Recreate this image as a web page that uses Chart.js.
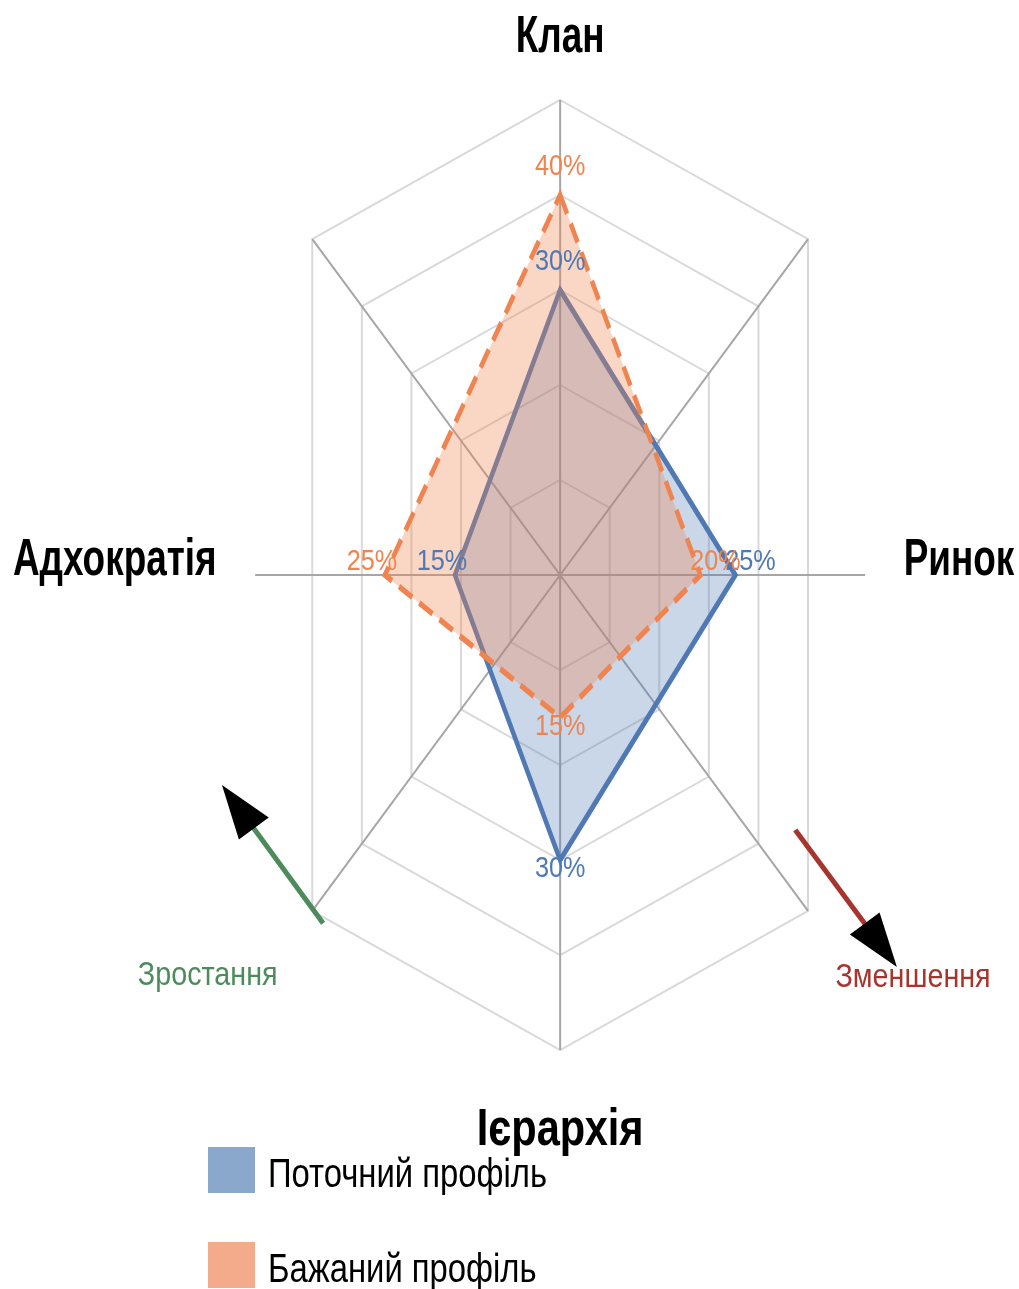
<!DOCTYPE html>
<html lang="uk">
<head>
<meta charset="utf-8">
<title>Профіль організаційної культури</title>
<script src="https://cdn.jsdelivr.net/npm/chart.js@4/dist/chart.umd.min.js"></script>
<style>
  html, body { margin: 0; padding: 0; background: #ffffff; overflow: hidden; }
  #wrap { position: relative; width: 1019px; height: 1289px; overflow: hidden; }
  canvas { display: block; }
</style>
</head>
<body>
<div id="wrap"><canvas id="chart" width="1383" height="1289"></canvas></div>
<script>
// ---- data ----
const categories     = ['Клан', '', 'Ринок', '', 'Ієрархія', '', 'Адхократія', ''];
const currentProfile = [30, null, 25, null, 30, null, 15, null];
const desiredProfile = [40, null, 20, null, 15, null, 25, null];
const seriesNames    = ['Поточний профіль', 'Бажаний профіль'];
const ringValues     = [10, 20, 30, 40, 50];
const trendLabels    = ['Зростання', 'Зменшення'];

// ---- style ----
const S = 0.738;                 // horizontal compression of the whole drawing
const FONT = "'Liberation Sans', Arial, Helvetica, sans-serif";
const BLUE = '#5079B3', BLUE_FILL = 'rgba(80,121,179,0.30)', BLUE_KEY = '#8AA8CB';
const ORANGE = '#EF8450', ORANGE_FILL = 'rgba(240,132,80,0.33)', ORANGE_KEY = '#F4AB8B';
const GREEN = '#4E8B5C', RED = '#A8342E';
const crossAxisReach = 43.5;      // horizontal axis length, in axis units
const axisIdx = [0, 1, 3, 4, 5, 7];  // corners of the grid rings

function toScreen(p) { return { x: p.x * S, y: p.y }; }
function inScreenSpace(ctx, fn) { ctx.save(); ctx.scale(1 / S, 1); fn(); ctx.restore(); }
function text(ctx, str, x, y, o) {
  ctx.save();
  ctx.translate(x, y);
  ctx.scale(o.kx || 1, 1);
  ctx.font = o.font;
  ctx.fillStyle = o.color;
  ctx.textAlign = o.align || 'center';
  ctx.textBaseline = o.baseline || 'alphabetic';
  ctx.fillText(str, 0, 0);
  ctx.restore();
}

// squeeze everything Chart.js draws horizontally
const squeeze = {
  id: 'squeeze',
  beforeDraw(chart) { chart.ctx.save(); chart.ctx.scale(S, 1); },
  afterDraw(chart) { chart.ctx.restore(); }
};

// hexagonal rings and spokes
const cultureGrid = {
  id: 'cultureGrid',
  beforeDatasetsDraw(chart) {
    const ctx = chart.ctx, r = chart.scales.r;
    inScreenSpace(ctx, () => {
      ctx.lineJoin = 'miter';
      ctx.lineWidth = 2;
      ctx.strokeStyle = '#D9D9D9';
      ringValues.forEach(v => {
        ctx.beginPath();
        axisIdx.forEach((i, k) => {
          const p = toScreen(r.getPointPositionForValue(i, v));
          if (k) ctx.lineTo(p.x, p.y); else ctx.moveTo(p.x, p.y);
        });
        ctx.closePath();
        ctx.stroke();
      });
      ctx.strokeStyle = '#A6A6A6';
      const c = toScreen(r.getPointPositionForValue(0, 0));
      const outer = ringValues[ringValues.length - 1];
      ctx.beginPath();
      axisIdx.forEach(i => {
        const p = toScreen(r.getPointPositionForValue(i, outer));
        ctx.moveTo(c.x, c.y); ctx.lineTo(p.x, p.y);
      });
      [2, 6].forEach(i => {
        const p = toScreen(r.getPointPositionForValue(i, crossAxisReach));
        ctx.moveTo(c.x, c.y); ctx.lineTo(p.x, p.y);
      });
      ctx.stroke();
    });
  }
};

// value labels, axis names, trend arrows and legend
const labelOffset = { 0: [0, -28], 2: [15, -13], 4: [0, 9], 6: [-13, -13] };
const axisStretch = { 0: 0.71, 2: 0.71, 4: 0.80, 6: 0.71 };
const annotations = {
  id: 'annotations',
  afterDatasetsDraw(chart) {
    const ctx = chart.ctx, r = chart.scales.r;
    inScreenSpace(ctx, () => {
      // value labels: current profile first, desired profile over it
      [0, 1].forEach(di => {
        const ds = chart.data.datasets[di];
        const meta = chart.getDatasetMeta(di);
        ds.data.forEach((v, j) => {
          if (v === null) return;
          const p = toScreen(meta.data[j]);
          const [dx, dy] = labelOffset[j];
          text(ctx, v + '%', p.x + dx, p.y + dy,
               { font: `30px ${FONT}`, color: ds.borderColor, baseline: 'middle', kx: 0.84 });
        });
      });

      // axis names
      const axisFont = i => ({ font: `bold 52px ${FONT}`, color: '#000000', kx: axisStretch[i] });
      const top = toScreen(r.getPointPositionForValue(0, 55.1));
      text(ctx, categories[0], top.x, top.y, axisFont(0));
      const right = toScreen(r.getPointPositionForValue(2, 49));
      text(ctx, categories[2], right.x, right.y, Object.assign(axisFont(2), { align: 'left' }));
      const bottom = toScreen(r.getPointPositionForValue(4, 60));
      text(ctx, categories[4], bottom.x, bottom.y, axisFont(4));
      const left = toScreen(r.getPointPositionForValue(6, 49));
      text(ctx, categories[6], left.x, left.y, Object.assign(axisFont(6), { align: 'right' }));

      // trend arrows
      const c = toScreen(r.getPointPositionForValue(0, 0));
      const R = r.drawingArea;
      const arrow = (tail, tip, color) => {
        const tx = c.x + tail[0] * R, ty = c.y + tail[1] * R;
        const hx = c.x + tip[0] * R, hy = c.y + tip[1] * R;
        const len = Math.hypot(hx - tx, hy - ty);
        const ux = (hx - tx) / len, uy = (hy - ty) / len;
        const headLen = 54, headHalf = 18.5;
        const bx = hx - ux * headLen, by = hy - uy * headLen;
        ctx.strokeStyle = color; ctx.lineWidth = 5; ctx.lineCap = 'butt';
        ctx.beginPath(); ctx.moveTo(tx, ty); ctx.lineTo(bx + ux * 4, by + uy * 4); ctx.stroke();
        ctx.fillStyle = '#000000';
        ctx.beginPath();
        ctx.moveTo(hx, hy);
        ctx.lineTo(bx - uy * headHalf, by + ux * headHalf);
        ctx.lineTo(bx + uy * headHalf, by - ux * headHalf);
        ctx.closePath(); ctx.fill();
      };
      arrow([-0.499, 0.733], [-0.712, 0.442], GREEN);
      arrow([0.495, 0.537], [0.709, 0.825], RED);
      text(ctx, trendLabels[0], c.x - 0.742 * R, c.y + 0.863 * R,
           { font: `33px ${FONT}`, color: GREEN, kx: 0.87 });
      text(ctx, trendLabels[1], c.x + 0.743 * R, c.y + 0.867 * R,
           { font: `33px ${FONT}`, color: RED, kx: 0.87 });

      // legend
      const keys = [BLUE_KEY, ORANGE_KEY];
      chart.data.datasets.forEach((ds, i) => {
        const y0 = 1147 + i * 95;
        ctx.fillStyle = keys[i];
        ctx.fillRect(208, y0, 47, 46);
        text(ctx, ds.label, 268, y0 + 40,
             { font: `40px ${FONT}`, color: '#000000', align: 'left', kx: 0.82 });
      });
    });
  }
};

new Chart(document.getElementById('chart'), {
  type: 'radar',
  data: {
    labels: categories,
    datasets: [
      {
        label: seriesNames[0],
        data: currentProfile,
        borderColor: BLUE,
        backgroundColor: BLUE_FILL,
        borderWidth: 6,
        pointRadius: 0,
        pointHoverRadius: 0,
        spanGaps: true,
        fill: true,
        order: 2
      },
      {
        label: seriesNames[1],
        data: desiredProfile,
        borderColor: ORANGE,
        backgroundColor: ORANGE_FILL,
        borderWidth: 6,
        borderDash: [21, 11],
        pointRadius: 0,
        pointHoverRadius: 0,
        spanGaps: true,
        fill: true,
        order: 1
      }
    ]
  },
  options: {
    responsive: false,
    animation: false,
    devicePixelRatio: 1,
    events: [],
    layout: { padding: { left: 284, right: 149, top: 100, bottom: 239 } },
    plugins: { legend: { display: false }, tooltip: { enabled: false } },
    scales: {
      r: {
        min: 0,
        max: 50,
        ticks: { display: false, stepSize: 10 },
        grid: { display: false },
        angleLines: { display: false },
        pointLabels: { display: false }
      }
    }
  },
  plugins: [squeeze, cultureGrid, annotations]
});
</script>
</body>
</html>
